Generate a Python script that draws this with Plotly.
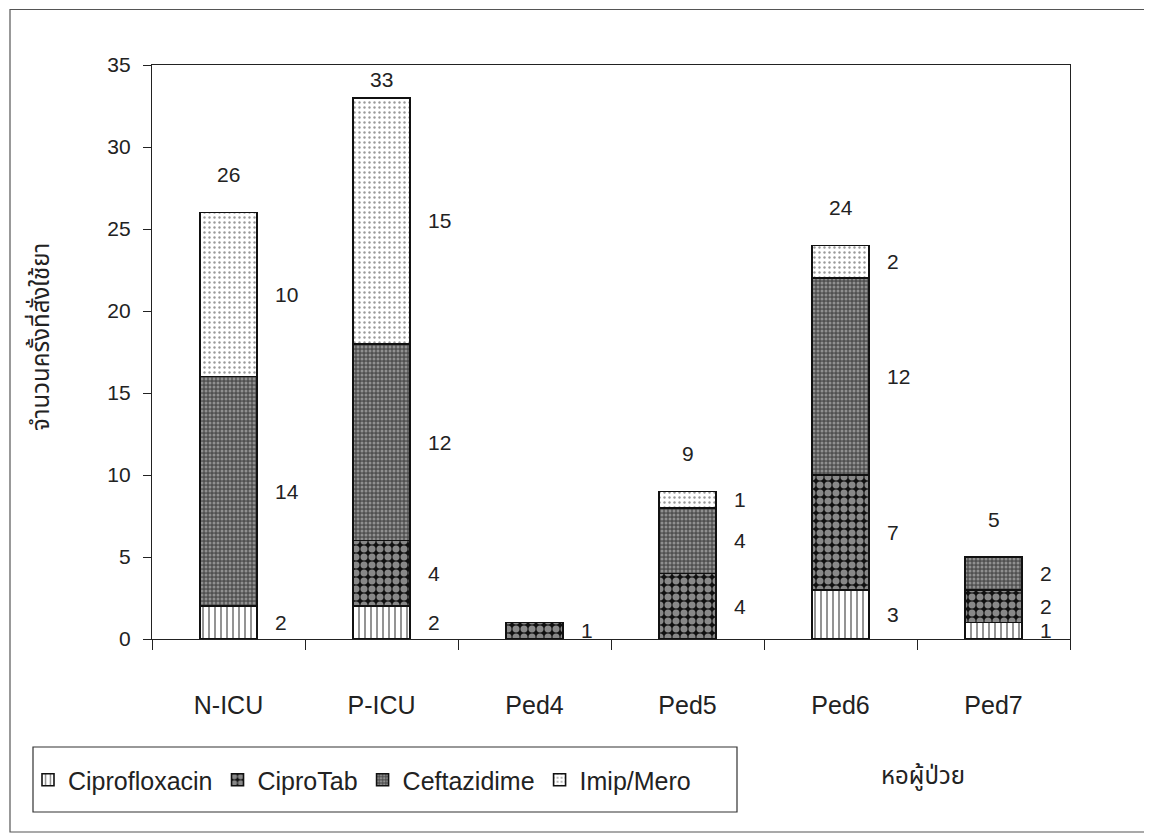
import plotly.graph_objects as go

categories = ["N-ICU", "P-ICU", "Ped4", "Ped5", "Ped6", "Ped7"]
series_names = ["Ciprofloxacin", "CiproTab", "Ceftazidime", "Imip/Mero"]
ciprofloxacin = [2, 2, 0, 0, 3, 1]
ciprotab = [0, 4, 1, 4, 7, 2]
ceftazidime = [14, 12, 0, 4, 12, 2]
imip_mero = [10, 15, 0, 1, 2, 0]
y_ticks = [0, 5, 10, 15, 20, 25, 30, 35]
y_title = "จำนวนครั้งที่สั่งใช้ยา"
x_title = "หอผู้ป่วย"

series = [ciprofloxacin, ciprotab, ceftazidime, imip_mero]
patterns = [
    dict(shape="|", fgcolor="#111111", bgcolor="white", size=6, solidity=0.3),
    dict(shape=".", fgcolor="white", bgcolor="#111111", size=8, solidity=0.6),
    dict(shape=".", fgcolor="#d0d0d0", bgcolor="#505050", size=4, solidity=0.45),
    dict(shape=".", fgcolor="#333333", bgcolor="white", size=5, solidity=0.18),
]

FONT = "Arial, Liberation Sans, sans-serif"
THAI = "Noto Sans Thai, Loma, Garuda, Tahoma, DejaVu Sans, sans-serif"

# the page has an 8px body margin: work in page pixels, shift by OFF
OFF = 8
W, H = 1152 - OFF, 836 - OFF
L, R, T, B = 152 - OFF, 1070 - OFF, 65 - OFF, 639 - OFF
pw, ph = R - L, B - T


def px(x):
    return (x - OFF - L) / pw


def py(y):
    return (B - (y - OFF)) / ph


fig = go.Figure()
for name, vals, pat in zip(series_names, series, patterns):
    fig.add_trace(go.Bar(
        x=categories, y=vals, name=name,
        marker=dict(color=pat["bgcolor"], pattern=pat,
                    line=dict(color="#111111", width=1.6)),
    ))

annotations = []
for i, cat in enumerate(categories):
    base = 0
    nonzero = 0
    for vals in series:
        v = vals[i]
        if v:
            nonzero += 1
            annotations.append(dict(
                x=cat, y=base + v / 2, text=str(v), showarrow=False,
                xanchor="left", yanchor="middle", xshift=44,
                font=dict(family=FONT, size=21, color="#222222")))
        base += v
    if nonzero > 1:
        annotations.append(dict(
            x=cat, y=min(base + 2.3, 34.1), text=str(base), showarrow=False,
            xanchor="center", yanchor="middle",
            font=dict(family=FONT, size=21, color="#222222")))

annotations.append(dict(
    xref="paper", yref="paper", x=px(923), y=py(777), text=x_title,
    showarrow=False, xanchor="center", yanchor="middle",
    font=dict(family=THAI, size=24, color="#222222")))
annotations.append(dict(
    xref="paper", yref="paper", x=px(42), y=py(337), text=y_title,
    showarrow=False, xanchor="center", yanchor="middle", textangle=-90,
    font=dict(family=THAI, size=24, color="#222222")))

shapes = [
    dict(type="rect", xref="paper", yref="paper",
         x0=px(33), x1=px(737), y0=py(812), y1=py(747),
         line=dict(color="#333333", width=1.2), fillcolor="rgba(0,0,0,0)"),
    dict(type="rect", xref="paper", yref="paper",
         x0=px(10), x1=px(1145), y0=py(832), y1=py(9.5),
         line=dict(color="#555555", width=1.2), fillcolor="rgba(0,0,0,0)"),
]

fig.update_layout(
    width=W, height=H,
    margin=dict(l=L, r=W - R, t=T, b=H - B, autoexpand=False),
    paper_bgcolor="white", plot_bgcolor="white",
    barmode="stack", bargap=0.63,
    font=dict(family=FONT, color="#222222"),
    annotations=annotations, shapes=shapes,
    legend=dict(orientation="h", x=px(28), y=py(780), xanchor="left",
                yanchor="middle", font=dict(family=FONT, size=25, color="#222222"),
                bgcolor="rgba(0,0,0,0)", traceorder="normal"),
    showlegend=True,
)
fig.update_xaxes(
    showline=True, linecolor="#222222", linewidth=1.2, mirror=True,
    ticks="outside", ticklen=10, tickcolor="#222222", tickson="boundaries",
    tickfont=dict(family=FONT, size=25, color="#222222"),
    ticklabelstandoff=44, showgrid=False,
)
fig.update_yaxes(
    range=[0, 35], tickvals=y_ticks,
    showline=True, linecolor="#222222", linewidth=1.2, mirror=True,
    ticks="outside", ticklen=8, tickcolor="#222222",
    tickfont=dict(family=FONT, size=21, color="#222222"),
    ticklabelstandoff=8, showgrid=False, zeroline=False,
)

fig.write_html("out.html")
